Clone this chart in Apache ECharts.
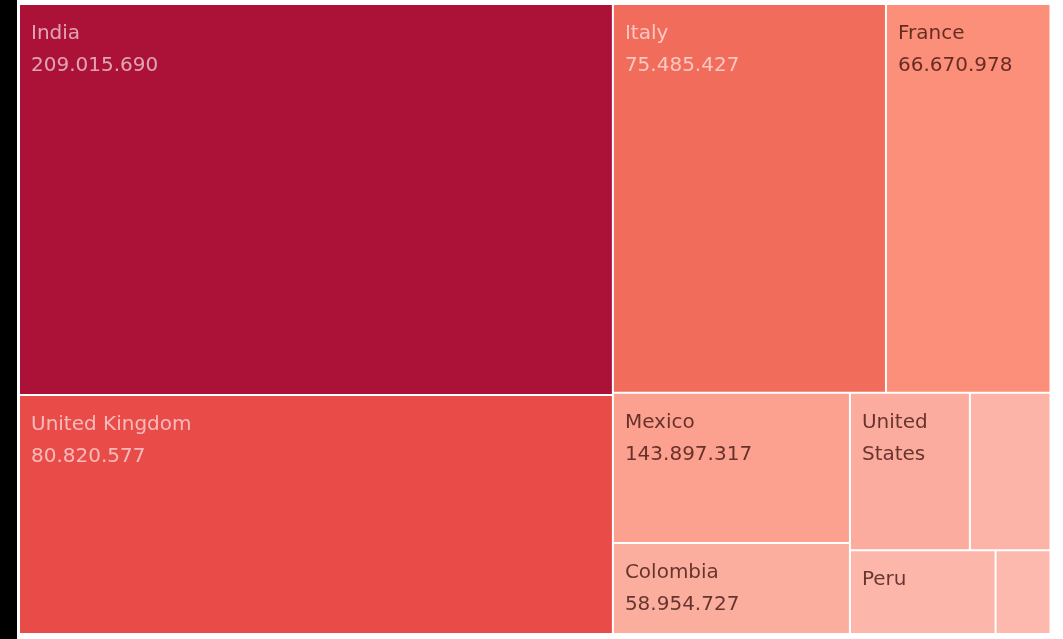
<!DOCTYPE html>
<html>
<head>
<meta charset="utf-8">
<script src="https://cdn.jsdelivr.net/npm/echarts@6/dist/echarts.min.js"></script>
<style>
  html, body { margin: 0; padding: 0; background: #ffffff; }
  #chart { width: 1063px; height: 639px; }
</style>
</head>
<body>
<div id="chart"></div>
<script>
// Countries, one per tile
const countries = ['India', 'United Kingdom', 'Italy', 'France', 'Mexico', 'Colombia', 'United States', '', 'Peru', ''];
// Measure that sets each tile's area
const tileSizes = [232.3, 142.0, 106.2, 64.0, 35.6, 21.6, 18.9, 12.7, 12.2, 4.6];
// Figure printed under the country name (null: tile too narrow, not printed)
const shownFigures = [209015690, 80820577, 75485427, 66670978, 143897317, 58954727, null, null, null, null];
// How the tiles are nested (indices into the arrays above)
const nesting = [[0, 1], [[2, 3], [[4, 5], [[6, 7], [8, 9]]]]];

// Fill and text colours per tile
const tileColors = ['#ac1237', '#e94b48', '#f26c5c', '#fb8f79', '#fca090', '#fcae9e', '#fcac9e', '#fdb4a8', '#fdb6aa', '#fdb9ad'];
const lightText = 'rgba(255,255,255,0.62)';
const darkText = 'rgba(45,5,0,0.72)';
const textColors = [lightText, lightText, lightText, darkText, darkText, darkText, darkText, darkText, darkText, darkText];

function withDots(v) {
  return String(v).replace(/\B(?=(\d{3})+(?!\d))/g, '.');
}

function buildNode(n) {
  if (typeof n === 'number') {
    return {
      name: countries[n],
      value: tileSizes[n],
      figure: shownFigures[n],
      itemStyle: { color: tileColors[n] },
      label: { color: textColors[n] }
    };
  }
  return { children: n.map(buildNode) };
}

const chart = echarts.init(document.getElementById('chart'), null, { renderer: 'canvas' });

chart.setOption({
  animation: false,
  backgroundColor: '#ffffff',
  graphic: [{
    type: 'rect',
    left: 0, top: 0,
    shape: { x: 0, y: 0, width: 17, height: 639 },
    style: { fill: '#000000' },
    silent: true
  }],
  series: [{
    type: 'treemap',
    left: 20,
    top: 5,
    width: 1029.5,
    height: 628,
    roam: false,
    nodeClick: false,
    squareRatio: 1,
    sort: 'desc',
    breadcrumb: { show: false },
    itemStyle: { borderWidth: 0, gapWidth: 2, borderColor: '#ffffff' },
    upperLabel: { show: false },
    label: {
      show: true,
      position: 'insideTopLeft',
      distance: 0,
      padding: [13, 4, 0, 11],
      fontFamily: 'DejaVu Sans',
      fontSize: 20,
      lineHeight: 32,
      overflow: 'break',
      formatter: function (p) {
        const d = p.data || {};
        if (!d.name) return '';
        return d.figure != null ? d.name + '\n' + withDots(d.figure) : d.name;
      }
    },
    emphasis: { disabled: true },
    data: nesting.map(buildNode)
  }]
});
</script>
</body>
</html>
